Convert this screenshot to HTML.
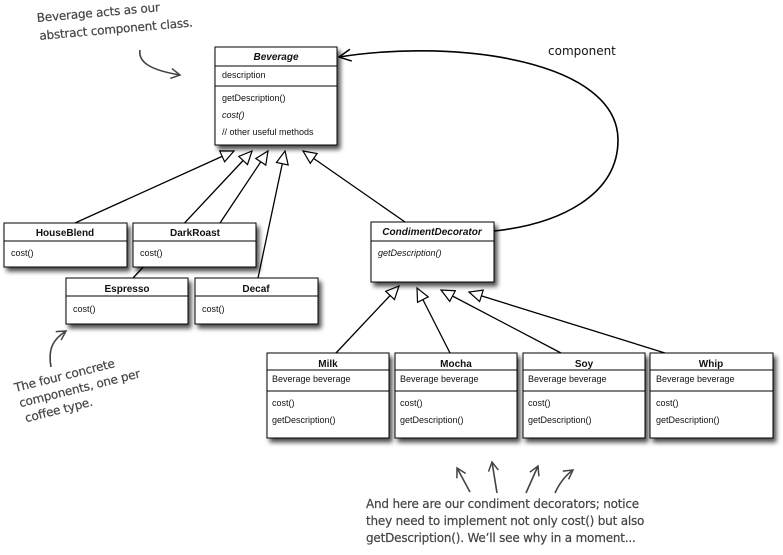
<!DOCTYPE html>
<html><head><meta charset="utf-8"><style>
html,body{margin:0;padding:0;background:#fff;}
svg{display:block;}
.t{font-family:"Liberation Sans",sans-serif;font-size:9px;fill:#111;}
.b{font-family:"Liberation Sans",sans-serif;font-size:10px;font-weight:bold;fill:#111;}
.h{font-family:"DejaVu Sans","Liberation Sans",sans-serif;font-size:12px;fill:#444;letter-spacing:-0.2px;stroke:#444;stroke-width:0.2px;}
</style></head><body>
<svg width="783" height="555" viewBox="0 0 783 555" xmlns="http://www.w3.org/2000/svg">
<defs>
<filter id="sh" x="-10%" y="-10%" width="130%" height="140%"><feGaussianBlur in="SourceAlpha" stdDeviation="2.5"/><feOffset dx="3" dy="4"/><feComponentTransfer><feFuncA type="linear" slope="0.7"/></feComponentTransfer><feMerge><feMergeNode/><feMergeNode in="SourceGraphic"/></feMerge></filter>
<marker id="tri" markerWidth="16" markerHeight="14" refX="14" refY="7" orient="auto" markerUnits="userSpaceOnUse"><path d="M1,1 L14,7 L1,13 Z" fill="#fff" stroke="#000" stroke-width="1.2"/></marker>
<marker id="open" markerWidth="14" markerHeight="14" refX="13" refY="7" orient="auto" markerUnits="userSpaceOnUse"><path d="M1,1 L13,7 L1,13" fill="none" stroke="#000" stroke-width="1.5"/></marker>
<marker id="ha" markerWidth="12" markerHeight="12" refX="10" refY="6" orient="auto" markerUnits="userSpaceOnUse"><path d="M1,1 L10,6 L1,11" fill="none" stroke="#444" stroke-width="1.5"/></marker>
</defs>

<g stroke="#000" stroke-width="1.3" fill="none">
<line x1="75" y1="223" x2="234" y2="151" marker-end="url(#tri)"/>
<line x1="133" y1="278" x2="252" y2="151" marker-end="url(#tri)"/>
<line x1="220" y1="223" x2="268" y2="151" marker-end="url(#tri)"/>
<line x1="258" y1="278" x2="285" y2="151" marker-end="url(#tri)"/>
<line x1="405" y1="222" x2="303" y2="151" marker-end="url(#tri)"/>
<line x1="336" y1="353" x2="399" y2="286" marker-end="url(#tri)"/>
<line x1="450" y1="353" x2="417" y2="288" marker-end="url(#tri)"/>
<line x1="561" y1="353" x2="441" y2="290" marker-end="url(#tri)"/>
<line x1="665" y1="353" x2="469" y2="292" marker-end="url(#tri)"/>
<path d="M494,231 C560,224 618,195 618,140 C618,62 460,38 339,57" stroke-width="1.6" marker-end="url(#open)"/>
</g>
<text x="548" y="55" font-family="DejaVu Sans,sans-serif" font-size="12" fill="#111">component</text>

<g filter="url(#sh)">
<rect x="215" y="47" width="122" height="98" fill="#fff" stroke="#000"/>
</g>
<line x1="215" y1="66" x2="337" y2="66" stroke="#000"/>
<line x1="215" y1="86" x2="337" y2="86" stroke="#000"/>
<text x="276" y="60" class="b" text-anchor="middle" font-style="italic">Beverage</text>
<text x="222" y="78" class="t">description</text>
<text x="222" y="101" class="t">getDescription()</text>
<text x="222" y="118" class="t" font-style="italic">cost()</text>
<text x="222" y="135" class="t">// other useful methods</text>

<g>
<g filter="url(#sh)"><rect x="4" y="223" width="123" height="44" fill="#fff" stroke="#000"/></g>
<line x1="4" y1="241" x2="127" y2="241" stroke="#000"/>
<text x="65" y="236" class="b" text-anchor="middle">HouseBlend</text>
<text x="11" y="256" class="t">cost()</text>

<g filter="url(#sh)"><rect x="133" y="223" width="123" height="44" fill="#fff" stroke="#000"/></g>
<line x1="133" y1="241" x2="256" y2="241" stroke="#000"/>
<text x="195" y="236" class="b" text-anchor="middle">DarkRoast</text>
<text x="140" y="256" class="t">cost()</text>

<g filter="url(#sh)"><rect x="66" y="278" width="122" height="46" fill="#fff" stroke="#000"/></g>
<line x1="66" y1="296" x2="188" y2="296" stroke="#000"/>
<text x="127" y="292" class="b" text-anchor="middle">Espresso</text>
<text x="73" y="312" class="t">cost()</text>

<g filter="url(#sh)"><rect x="195" y="278" width="123" height="46" fill="#fff" stroke="#000"/></g>
<line x1="195" y1="296" x2="318" y2="296" stroke="#000"/>
<text x="256" y="292" class="b" text-anchor="middle">Decaf</text>
<text x="202" y="312" class="t">cost()</text>

<g filter="url(#sh)"><rect x="371" y="222" width="123" height="60" fill="#fff" stroke="#000"/></g>
<line x1="371" y1="241" x2="494" y2="241" stroke="#000"/>
<text x="432" y="235" class="b" text-anchor="middle" font-style="italic">CondimentDecorator</text>
<text x="378" y="256" class="t" font-style="italic">getDescription()</text>
</g>

<g>
<g filter="url(#sh)"><rect x="267" y="353" width="122" height="85" fill="#fff" stroke="#000"/></g>
<line x1="267" y1="370" x2="389" y2="370" stroke="#000"/><line x1="267" y1="391" x2="389" y2="391" stroke="#000"/>
<text x="328" y="367" class="b" text-anchor="middle">Milk</text>
<text x="272" y="382" class="t">Beverage beverage</text><text x="272" y="406" class="t">cost()</text><text x="272" y="423" class="t">getDescription()</text>

<g filter="url(#sh)"><rect x="395" y="353" width="122" height="85" fill="#fff" stroke="#000"/></g>
<line x1="395" y1="370" x2="517" y2="370" stroke="#000"/><line x1="395" y1="391" x2="517" y2="391" stroke="#000"/>
<text x="456" y="367" class="b" text-anchor="middle">Mocha</text>
<text x="400" y="382" class="t">Beverage beverage</text><text x="400" y="406" class="t">cost()</text><text x="400" y="423" class="t">getDescription()</text>

<g filter="url(#sh)"><rect x="523" y="353" width="122" height="85" fill="#fff" stroke="#000"/></g>
<line x1="523" y1="370" x2="645" y2="370" stroke="#000"/><line x1="523" y1="391" x2="645" y2="391" stroke="#000"/>
<text x="584" y="367" class="b" text-anchor="middle">Soy</text>
<text x="528" y="382" class="t">Beverage beverage</text><text x="528" y="406" class="t">cost()</text><text x="528" y="423" class="t">getDescription()</text>

<g filter="url(#sh)"><rect x="650" y="353" width="123" height="85" fill="#fff" stroke="#000"/></g>
<line x1="650" y1="370" x2="773" y2="370" stroke="#000"/><line x1="650" y1="391" x2="773" y2="391" stroke="#000"/>
<text x="711" y="367" class="b" text-anchor="middle">Whip</text>
<text x="656" y="382" class="t">Beverage beverage</text><text x="656" y="406" class="t">cost()</text><text x="656" y="423" class="t">getDescription()</text>
</g>

<g transform="rotate(-5 37 20)">
<text x="37" y="22" class="h">Beverage acts as our</text>
<text x="38" y="40" class="h">abstract component class.</text>
</g>
<path d="M140,50 C138,62 150,70 180,75" stroke="#444" stroke-width="1.6" fill="none" marker-end="url(#ha)"/>

<g transform="rotate(-14 15 390)">
<text x="15" y="392" class="h">The four concrete</text>
<text x="16" y="408" class="h">components, one per</text>
<text x="18" y="424" class="h">coffee type.</text>
</g>
<path d="M51,367 C48,350 52,340 66,331" stroke="#444" stroke-width="1.6" fill="none" marker-end="url(#ha)"/>

<path d="M470,492 L457,468" stroke="#444" stroke-width="1.6" fill="none" marker-end="url(#ha)"/>
<path d="M497,493 L492,462" stroke="#444" stroke-width="1.6" fill="none" marker-end="url(#ha)"/>
<path d="M526,493 L538,466" stroke="#444" stroke-width="1.6" fill="none" marker-end="url(#ha)"/>
<path d="M555,493 C560,482 566,475 573,470" stroke="#444" stroke-width="1.6" fill="none" marker-end="url(#ha)"/>
<text x="366" y="508" class="h">And here are our condiment decorators; notice</text>
<text x="366" y="525" class="h">they need to implement not only cost() but also</text>
<text x="366" y="542" class="h">getDescription(). We’ll see why in a moment...</text>
</svg>
</body></html>
